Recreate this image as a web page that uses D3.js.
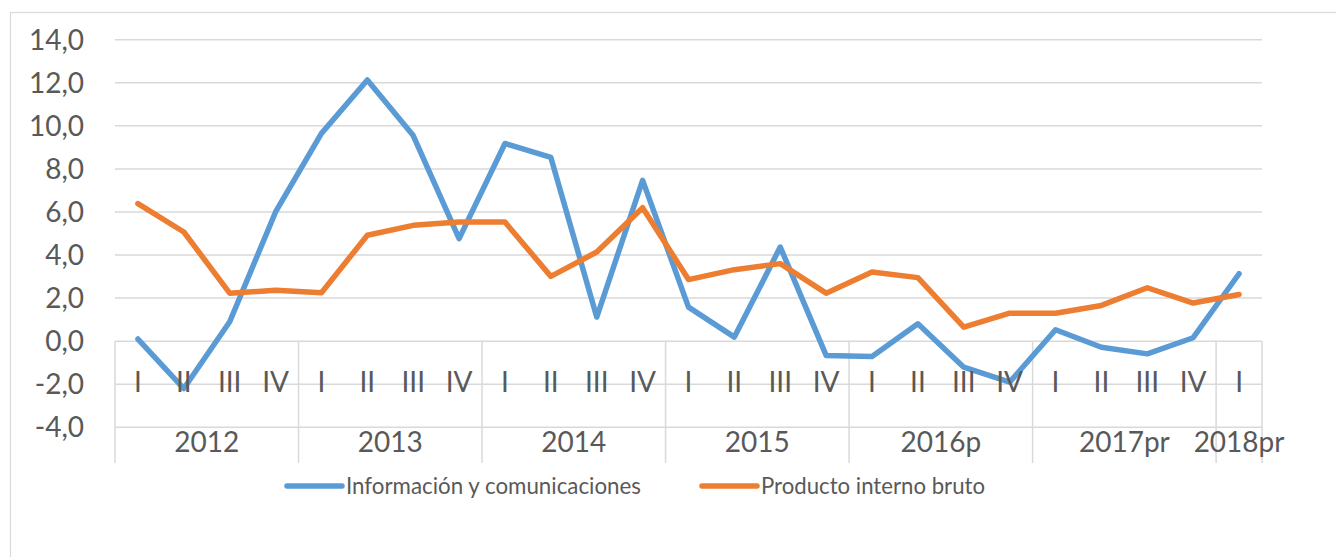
<!DOCTYPE html>
<html>
<head>
<meta charset="utf-8">
<script src="https://cdnjs.cloudflare.com/ajax/libs/d3/7.8.5/d3.min.js"></script>
<style>
  body { margin: 0; background: #fff; }
  text { font-family: Lato, "Open Sans", sans-serif; fill: #595959; }
</style>
</head>
<body>
<div id="chart"></div>
<script>
const quarters = ["I", "II", "III", "IV", "I", "II", "III", "IV", "I", "II", "III", "IV",
                  "I", "II", "III", "IV", "I", "II", "III", "IV", "I", "II", "III", "IV", "I"];
const years = ["2012", "2013", "2014", "2015", "2016p", "2017pr", "2018pr"];
const quartersPerYear = [4, 4, 4, 4, 4, 4, 1];
const yTicks = [-4, -2, 0, 2, 4, 6, 8, 10, 12, 14];

const infoCom = [0.1, -2.2, 0.9, 6.0, 9.65, 12.13, 9.55, 4.76, 9.18, 8.53, 1.12, 7.47, 1.58,
                 0.19, 4.37, -0.66, -0.71, 0.81, -1.21, -1.9, 0.53, -0.28, -0.59, 0.16, 3.13];
const pib = [6.39, 5.07, 2.23, 2.36, 2.25, 4.92, 5.38, 5.53, 5.53, 3.01, 4.14, 6.2, 2.86,
             3.32, 3.6, 2.23, 3.21, 2.95, 0.65, 1.3, 1.3, 1.66, 2.48, 1.77, 2.17];

const series = [
  { name: "Información y comunicaciones", values: infoCom, color: "#5B9BD5" },
  { name: "Producto interno bruto", values: pib, color: "#ED7D31" }
];

const w = 1336;
const h = 557;
const left = 115, right = 1262;
const axisBottom = 463;

const locale = d3.formatLocale({ decimal: ",", thousands: ".", grouping: [3], currency: ["$", ""], minus: "-" });
const fmt = locale.format(".1f");

const svg = d3.select("#chart")
  .append("svg")
  .attr("width", w)
  .attr("height", h);

// outer frame
svg.append("rect")
   .attr("x", 10.5)
   .attr("y", 12.5)
   .attr("width", w)
   .attr("height", h)
   .attr("fill", "#fff")
   .attr("stroke", "#D9D9D9")
   .attr("stroke-width", 1.2);

const xScale = d3.scaleBand()
                 .domain(d3.range(quarters.length))
                 .range([left, right]);
const yScale = d3.scaleLinear()
                 .domain([-4, 14])
                 .range([427.3, 39.7]);

// gridlines
svg.selectAll(".grid")
   .data(yTicks)
   .enter()
   .append("line")
   .attr("class", "grid")
   .attr("x1", left)
   .attr("x2", right)
   .attr("y1", (d) => yScale(d))
   .attr("y2", (d) => yScale(d))
   .attr("stroke", "#D9D9D9")
   .attr("stroke-width", 1.5);

// y labels
svg.selectAll(".ylab")
   .data(yTicks)
   .enter()
   .append("text")
   .attr("class", "ylab")
   .attr("x", 84)
   .attr("y", (d) => yScale(d) + 10)
   .attr("text-anchor", "end")
   .style("font-size", "28px")
   .text((d) => fmt(d));

// year group boundaries
const starts = [0];
quartersPerYear.forEach((n, i) => starts.push(starts[i] + n));
const bw = xScale.bandwidth();

svg.selectAll(".sep")
   .data(starts)
   .enter()
   .append("line")
   .attr("class", "sep")
   .attr("x1", (d) => xScale.range()[0] + d * bw)
   .attr("x2", (d) => xScale.range()[0] + d * bw)
   .attr("y1", yScale(0))
   .attr("y2", axisBottom)
   .attr("stroke", "#D9D9D9")
   .attr("stroke-width", 1.5);

// lines
const line = d3.line()
  .x((d, i) => xScale(i) + bw / 2)
  .y((d) => yScale(d));

svg.selectAll(".series")
   .data(series)
   .enter()
   .append("path")
   .attr("class", "series")
   .attr("d", (d) => line(d.values))
   .attr("fill", "none")
   .attr("stroke", (d) => d.color)
   .attr("stroke-width", 5.5)
   .attr("stroke-linejoin", "round")
   .attr("stroke-linecap", "round");

// quarter labels
svg.selectAll(".qlab")
   .data(quarters)
   .enter()
   .append("text")
   .attr("class", "qlab")
   .attr("x", (d, i) => xScale(i) + bw / 2)
   .attr("y", 392)
   .attr("text-anchor", "middle")
   .style("font-size", "28px")
   .text((d) => d);

// year labels
svg.selectAll(".yearlab")
   .data(years)
   .enter()
   .append("text")
   .attr("class", "yearlab")
   .attr("x", (d, i) => left + (starts[i] + quartersPerYear[i] / 2) * bw)
   .attr("y", 452)
   .attr("text-anchor", "middle")
   .style("font-size", "28px")
   .text((d) => d);

// legend
const legendX = [287, 702];
const legendW = [295, 224];
const legend = svg.selectAll(".legend")
   .data(series)
   .enter()
   .append("g")
   .attr("class", "legend")
   .attr("transform", (d, i) => `translate(${legendX[i]}, 486)`);

legend.append("line")
      .attr("x1", 0)
      .attr("x2", 55)
      .attr("stroke", (d) => d.color)
      .attr("stroke-width", 5.5)
      .attr("stroke-linecap", "round");

legend.append("text")
      .attr("x", 59)
      .attr("y", 8)
      .attr("textLength", (d, i) => legendW[i])
      .attr("lengthAdjust", "spacingAndGlyphs")
      .style("font-size", "23px")
      .text((d) => d.name);
</script>
</body>
</html>
